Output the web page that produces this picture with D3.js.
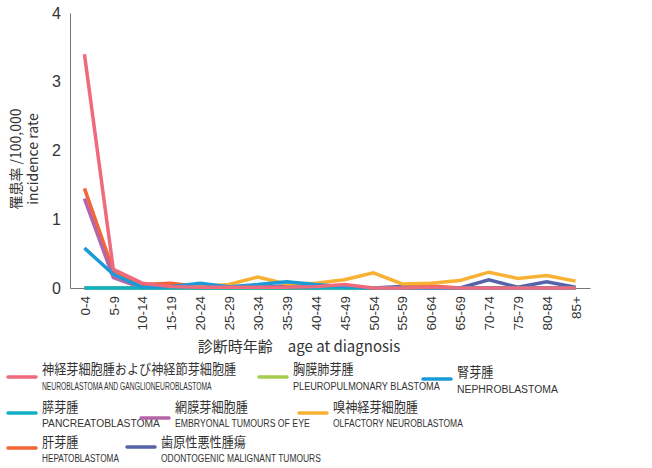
<!DOCTYPE html>
<html><head><meta charset="utf-8">
<script src="https://cdn.jsdelivr.net/npm/d3@7"></script>
<style>
body{margin:0;background:#fff;}
text{font-family:"Noto Sans CJK JP","Liberation Sans",Arial,sans-serif;fill:#333;}
</style></head>
<body><svg id="c" width="652" height="468"></svg>
<script>
const ageGroups = ["0-4","5-9","10-14","15-19","20-24","25-29","30-34","35-39","40-44","45-49","50-54","55-59","60-64","65-69","70-74","75-79","80-84","85+"];
const yTicks = [0,1,2,3,4];

const neuroblastoma   = [3.4,0.27,0.07,0.02,0.01,0.01,0.01,0.01,0.02,0.05,0.0,0.0,0.01,0.0,0.0,0.0,0.0,0.0];
const pleuropulmonary = [0,0,0,0,0,0,0,0,0,0,0,0,0,0,0,0,0,0];
const nephroblastoma  = [0.58,0.2,0.01,0.02,0.07,0.02,0.05,0.09,0.05,0.02,0.0,0.0,0.0,0.0,0.0,0.0,0.0,0.0];
const pancreatoblastoma = [0,0,0,0,0,0,0,0,0,0,0,0,0,0,0,0,0,0];
const embryonalEye    = [1.3,0.15,0.0,0.0,0.0,0.0,0.0,0.0,0.0,0.0,0.0,0.0,0.0,0.0,0.0,0.0,0.0,0.0];
const olfactory       = [0,0,0,0.01,0.02,0.05,0.16,0.06,0.07,0.12,0.22,0.06,0.07,0.11,0.23,0.14,0.18,0.1];
const hepatoblastoma  = [1.45,0.25,0.05,0.07,0.02,0.01,0.01,0.0,0.0,0.0,0.0,0.0,0.03,0.0,0.0,0.0,0.0,0.0];
const odontogenic     = [0,0,0,0,0,0,0.01,0.03,0.01,0,0,0.02,0.01,0,0.12,0.01,0.09,0.01];

const seriesNames = [
  ["神経芽細胞腫および神経節芽細胞腫","NEUROBLASTOMA AND GANGLIONEUROBLASTOMA"],
  ["胸膜肺芽腫","PLEUROPULMONARY BLASTOMA"],
  ["腎芽腫","NEPHROBLASTOMA"],
  ["膵芽腫","PANCREATOBLASTOMA"],
  ["網膜芽細胞腫","EMBRYONAL TUMOURS OF EYE"],
  ["嗅神経芽細胞腫","OLFACTORY NEUROBLASTOMA"],
  ["肝芽腫","HEPATOBLASTOMA"],
  ["歯原性悪性腫瘍","ODONTOGENIC MALIGNANT TUMOURS"]
];
const seriesColors = ["#ee6a7c","#a8cc50","#1a9ad6","#12b0c4","#b865a8","#f8b133","#f26536","#5563a8"];
const seriesValues = [neuroblastoma,pleuropulmonary,nephroblastoma,pancreatoblastoma,embryonalEye,olfactory,hepatoblastoma,odontogenic];
const drawOrder = [7,6,5,4,1,3,2,0];

const svg = d3.select("#c");
const x = d3.scalePoint().domain(ageGroups).range([70,590]).padding(0.5);
const y = d3.scaleLinear().domain([0,4]).range([288,13]);

// axes
const yAxis = svg.append("g").attr("transform","translate(70,0)")
  .call(d3.axisLeft(y).tickValues(yTicks).tickFormat(d3.format("d")).tickSize(0).tickPadding(9));
yAxis.select(".domain").attr("stroke","#777").attr("stroke-width",1);
yAxis.selectAll("text").style("font-family","'Liberation Sans',Arial,sans-serif").style("font-size","16px").attr("fill","#333");

const xAxis = svg.append("g").attr("transform","translate(0,288)").call(d3.axisBottom(x).tickSize(0).tickPadding(0));
xAxis.select(".domain").attr("stroke","#777").attr("stroke-width",1);
xAxis.selectAll("text")
  .style("font-family","'Liberation Sans',Arial,sans-serif").style("font-size","13.5px").attr("fill","#333")
  .attr("transform","rotate(-90)").attr("text-anchor","end").attr("x",-8).attr("y",0).attr("dy","0.35em");

// lines
const line = d3.line().x((d,i)=>x(ageGroups[i])).y(d=>y(d));
drawOrder.forEach(k=>{
  svg.append("path").datum(seriesValues[k]).attr("d",line)
    .attr("fill","none").attr("stroke",seriesColors[k]).attr("stroke-width",3.5)
    .attr("stroke-linejoin","miter").attr("stroke-linecap","butt");
});

// axis titles
svg.append("text").attr("x",299).attr("y",352).attr("text-anchor","middle").style("font-size","15px")
  .text("診断時年齢　age at diagnosis");
const yt = svg.append("text").attr("transform","translate(21,159) rotate(-90)").attr("text-anchor","middle").style("font-size","14px");
yt.append("tspan").attr("x",0).attr("dy",0).text("罹患率 /100,000");
yt.append("tspan").attr("x",0).attr("dy","17").text("incidence rate");

// legend
const legendPos = [
  [8,377,369,386],[259,377,369,386],[423,379,372,389],
  [8,413,407,423],[141,418,407,423],[299,413,407,423],
  [8,448,442,458],[127,447,442,458]
];
const enWidths = [170,147,101,118,135,130,77,160];
seriesNames.forEach((nm,i)=>{
  const [lx,ly,jy,ey] = legendPos[i];
  const g = svg.append("g");
  g.append("line").attr("x1",lx).attr("x2",lx+28).attr("y1",ly).attr("y2",ly)
    .attr("stroke",seriesColors[i]).attr("stroke-width",3.5).attr("stroke-linecap","round");
  g.append("text").attr("x",0).attr("y",0).attr("dy","0.35em").style("font-size","13.5px")
    .attr("transform",`translate(${lx+34},${jy}) scale(0.9,1)`).text(nm[0]);
  const en = g.append("text").attr("x",0).attr("y",0).attr("dy","0.35em")
    .style("font-family","'Liberation Sans',Arial,sans-serif").style("font-size","11.5px").text(nm[1]);
  const w = en.node().getComputedTextLength();
  en.attr("transform",`translate(${lx+34},${ey}) scale(${enWidths[i]/w},1)`);
});
</script></body></html>
